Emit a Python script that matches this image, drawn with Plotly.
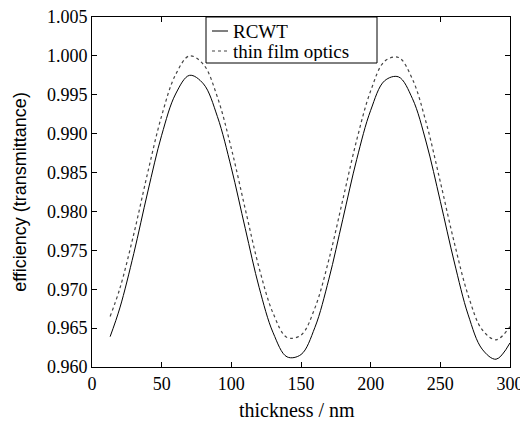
import plotly.graph_objects as go

thickness = [13, 20, 30, 40, 50, 60, 70, 80, 90, 100, 110, 120, 130, 140, 150,
             160, 170, 180, 190, 200, 210, 220, 230, 240, 250, 260, 270, 280, 290, 300]
rcwt = [0.9639, 0.9676, 0.9746, 0.9825, 0.9898, 0.9951, 0.9975, 0.9964, 0.9922, 0.9856,
        0.9778, 0.9702, 0.9644, 0.9613, 0.9616, 0.9651, 0.9713, 0.9790, 0.9867, 0.9930,
        0.9968, 0.9973, 0.9945, 0.9888, 0.9813, 0.9735, 0.9667, 0.9623, 0.9610, 0.9631]
thin_film = [0.9665, 0.9701, 0.9771, 0.9850, 0.9923, 0.9976, 1.0000, 0.9989, 0.9947, 0.9881,
             0.9803, 0.9727, 0.9669, 0.9638, 0.9641, 0.9676, 0.9738, 0.9815, 0.9892, 0.9955,
             0.9993, 0.9998, 0.9970, 0.9913, 0.9838, 0.9760, 0.9692, 0.9648, 0.9635, 0.9652]
series_names = ["RCWT", "thin film optics"]
x_ticks = [0, 50, 100, 150, 200, 250, 300]
y_ticks = [0.960, 0.965, 0.970, 0.975, 0.980, 0.985, 0.990, 0.995, 1.000, 1.005]
x_title = "thickness / nm"
y_title = "efficiency (transmittance)"

SERIF = "Liberation Serif"
SANS = "Liberation Sans"

styles = [dict(color="black", width=1, shape="spline"),
          dict(color="#444", width=1.2, dash="dot", shape="spline")]

fig = go.Figure()
for name, ys, st in zip(series_names, [rcwt, thin_film], styles):
    fig.add_trace(go.Scatter(x=thickness, y=ys, mode="lines", name=name, line=st,
                             showlegend=False))

axis_common = dict(showline=True, linecolor="black", linewidth=1, mirror="ticks",
                   ticks="inside", ticklen=5, tickcolor="black", showgrid=False,
                   zeroline=False, automargin=False, ticklabeloverflow="allow",
                   tickfont=dict(family=SERIF, size=18, color="black"))

# page has an 8px body margin on top/left; figure sized so the plot area lands on
# page pixels x 92..510, y 17..367
OFF = 8
W_PLOT, H_PLOT = 418.0, 350.0
def px_x(p):
    return (p - 92) / W_PLOT
def px_y(p):
    return 1 - (p - 17) / H_PLOT

shapes = [dict(type="rect", xref="paper", yref="paper",
               x0=px_x(206), x1=px_x(377), y0=px_y(63), y1=px_y(17),
               line=dict(color="black", width=1), fillcolor="white", layer="above")]
annotations = []
for i, (name, st) in enumerate(zip(series_names, styles)):
    yc = px_y(31 + 20 * i)
    shapes.append(dict(type="line", xref="paper", yref="paper",
                       x0=px_x(212), x1=px_x(228), y0=yc, y1=yc,
                       line=dict(color=st["color"], width=st["width"], dash=st.get("dash", "solid")),
                       layer="above"))
    annotations.append(dict(xref="paper", yref="paper", x=px_x(231), y=yc,
                            xanchor="left", yanchor="middle", text=name, showarrow=False,
                            height=19, valign="middle",
                            font=dict(family=SERIF, size=19, color="black")))

annotations.append(dict(xref="paper", yref="paper", x=px_x(297), y=px_y(410),
                        xanchor="center", yanchor="middle", text=x_title, showarrow=False,
                        font=dict(family=SERIF, size=20, color="black")))

fig.update_layout(
    width=528 - OFF, height=422 - OFF,
    margin=dict(l=92 - OFF, r=18, t=17 - OFF, b=55),
    paper_bgcolor="white", plot_bgcolor="white",
    font=dict(family=SERIF, size=18, color="black"),
    xaxis=dict(range=[0, 300], tickvals=x_ticks, ticktext=[str(v) for v in x_ticks],
               **axis_common),
    yaxis=dict(range=[0.960, 1.005], tickvals=y_ticks, ticktext=[f"{v:.3f}" for v in y_ticks],
               title=dict(text=y_title, font=dict(family=SANS, size=18)),
               **axis_common),
    shapes=shapes,
    annotations=annotations,
    showlegend=False,
)

fig.write_html("out.html")
